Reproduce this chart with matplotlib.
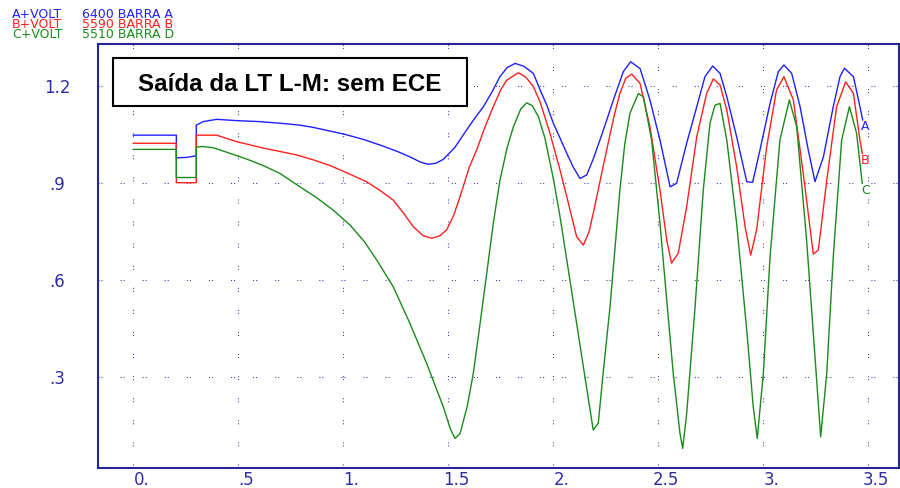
import matplotlib
matplotlib.use("Agg")
import matplotlib.pyplot as plt
import matplotlib.transforms as mtransforms
from matplotlib.patches import Rectangle

# ---------------- data ----------------
blue_x = [0.000, 0.205, 0.205, 0.250, 0.300, 0.300, 0.333, 0.397, 0.492, 0.600, 0.698, 0.794, 0.857,
          1.005, 1.095, 1.190, 1.260, 1.317, 1.370, 1.405, 1.440, 1.476, 1.530, 1.587, 1.630, 1.667,
          1.710, 1.746, 1.780, 1.818, 1.860, 1.905, 1.937, 1.970, 2.000, 2.032, 2.064, 2.095, 2.127,
          2.159, 2.190, 2.222, 2.254, 2.286, 2.333, 2.368, 2.413, 2.440, 2.460, 2.508, 2.556, 2.587,
          2.610, 2.635, 2.683, 2.722, 2.759, 2.794, 2.826, 2.873, 2.921, 2.949, 2.984, 3.032, 3.071,
          3.098, 3.135, 3.175, 3.214, 3.246, 3.286, 3.333, 3.365, 3.386, 3.429, 3.460, 3.473]
blue_y = [1.049, 1.049, 0.979, 0.980, 0.985, 1.080, 1.091, 1.098, 1.094, 1.091, 1.086, 1.080, 1.073,
          1.052, 1.036, 1.015, 0.998, 0.982, 0.965, 0.959, 0.962, 0.974, 1.010, 1.065, 1.105, 1.137,
          1.185, 1.230, 1.258, 1.271, 1.262, 1.240, 1.189, 1.140, 1.086, 1.040, 0.993, 0.950, 0.915,
          0.926, 0.975, 1.034, 1.095, 1.158, 1.245, 1.276, 1.255, 1.200, 1.158, 1.034, 0.889, 0.900,
          0.960, 1.024, 1.137, 1.230, 1.263, 1.240, 1.168, 1.044, 0.905, 0.903, 1.003, 1.147, 1.245,
          1.266, 1.240, 1.137, 1.003, 0.905, 0.982, 1.137, 1.230, 1.256, 1.230, 1.137, 1.096]

red_x = [0.000, 0.205, 0.205, 0.300, 0.300, 0.397, 0.492, 0.619, 0.778, 0.860, 0.937, 1.005, 1.111,
         1.175, 1.238, 1.290, 1.333, 1.380, 1.421, 1.460, 1.492, 1.525, 1.556, 1.600, 1.635, 1.675,
         1.714, 1.750, 1.778, 1.833, 1.870, 1.905, 1.937, 1.984, 2.032, 2.064, 2.111, 2.143, 2.170,
         2.190, 2.254, 2.290, 2.317, 2.345, 2.373, 2.413, 2.460, 2.508, 2.540, 2.563, 2.595, 2.635,
         2.683, 2.730, 2.762, 2.794, 2.826, 2.873, 2.913, 2.940, 2.968, 3.016, 3.063, 3.098, 3.143,
         3.190, 3.238, 3.262, 3.302, 3.349, 3.392, 3.429, 3.460, 3.471]
red_y = [1.024, 1.024, 0.902, 0.902, 1.049, 1.049, 1.029, 1.009, 0.988, 0.972, 0.955, 0.936, 0.905,
         0.878, 0.848, 0.805, 0.766, 0.738, 0.730, 0.738, 0.756, 0.800, 0.859, 0.950, 1.003, 1.075,
         1.137, 1.190, 1.219, 1.242, 1.228, 1.199, 1.152, 1.055, 0.941, 0.859, 0.735, 0.709, 0.750,
         0.807, 1.003, 1.110, 1.178, 1.225, 1.238, 1.209, 1.075, 0.879, 0.725, 0.653, 0.684, 0.828,
         1.044, 1.178, 1.223, 1.204, 1.127, 0.951, 0.766, 0.678, 0.756, 1.013, 1.189, 1.230, 1.158,
         0.931, 0.681, 0.694, 0.910, 1.137, 1.214, 1.178, 1.034, 0.993]

green_x = [0.000, 0.205, 0.205, 0.300, 0.300, 0.330, 0.381, 0.460, 0.540, 0.619, 0.700, 0.794, 0.870,
           0.952, 1.032, 1.100, 1.159, 1.238, 1.317, 1.397, 1.476, 1.510, 1.532, 1.556, 1.590, 1.619,
           1.650, 1.683, 1.715, 1.746, 1.780, 1.810, 1.845, 1.873, 1.900, 1.929, 1.960, 2.000, 2.032,
           2.079, 2.143, 2.190, 2.214, 2.240, 2.270, 2.317, 2.340, 2.365, 2.405, 2.429, 2.468, 2.508,
           2.540, 2.571, 2.603, 2.616, 2.635, 2.675, 2.714, 2.746, 2.770, 2.794, 2.826, 2.873, 2.921,
           2.952, 2.971, 3.000, 3.032, 3.079, 3.124, 3.159, 3.206, 3.246, 3.273, 3.302, 3.333, 3.373,
           3.410, 3.444, 3.471]
green_y = [1.005, 1.005, 0.918, 0.918, 1.012, 1.014, 1.010, 0.993, 0.975, 0.955, 0.930, 0.889, 0.857,
           0.817, 0.771, 0.720, 0.663, 0.580, 0.467, 0.343, 0.209, 0.140, 0.111, 0.126, 0.210, 0.312,
           0.460, 0.622, 0.780, 0.910, 1.010, 1.075, 1.130, 1.149, 1.140, 1.106, 1.040, 0.915, 0.797,
           0.601, 0.333, 0.137, 0.158, 0.330, 0.518, 0.879, 1.020, 1.117, 1.178, 1.168, 1.034, 0.776,
           0.539, 0.312, 0.127, 0.080, 0.188, 0.518, 0.879, 1.086, 1.142, 1.147, 1.034, 0.776, 0.446,
           0.209, 0.111, 0.312, 0.673, 1.034, 1.158, 1.075, 0.725, 0.364, 0.116, 0.312, 0.673, 1.034,
           1.137, 1.055, 0.900]

x_ticks = [0.0, 0.5, 1.0, 1.5, 2.0, 2.5, 3.0, 3.5]
x_tick_labels = ["0.", ".5", "1.", "1.5", "2.", "2.5", "3.", "3.5"]
y_ticks = [0.3, 0.6, 0.9, 1.2]
y_tick_labels = [".3", ".6", ".9", "1.2"]

legend_names = ["A+VOLT", "B+VOLT", "C+VOLT"]
legend_desc = ["6400 BARRA A", "5590 BARRA B", "5510 BARRA D"]
end_labels = ["A", "B", "C"]
title_text = "Saída da LT L-M: sem ECE"

# ---------------- styling ----------------
plt.rcParams["lines.scale_dashes"] = False
W, H = 900, 488
c_blue, c_red, c_green = "#1f1fff", "#ff1f1f", "#1a8a1a"
navy = "#25259a"
series_colors = [c_blue, c_red, c_green]

fig = plt.figure(figsize=(W / 100, H / 100), dpi=100)
fig.patch.set_facecolor("white")
ax = fig.add_axes([98 / W, 20 / H, 801 / W, 424 / H])

ax.set_xlim(-0.168, 3.646)
ax.set_ylim(0.0195, 1.331)

# grid: sparse dotted pattern
dots = (0, (0.75, 1.4, 0.75, 13.0))
for xv in x_ticks:
    ax.axvline(xv, color="#3a3aa8", lw=0.8, linestyle=dots, zorder=1)
for yv in y_ticks:
    ax.axhline(yv, color="#3a3aa8", lw=0.8, linestyle=dots, zorder=1)

# curves
for xs, ys, col in zip([blue_x, red_x, green_x], [blue_y, red_y, green_y], series_colors):
    ax.plot(xs, ys, color=col, lw=1.0, zorder=3)

# curve end labels
for xs, ys, col, lab in zip([blue_x, red_x, green_x], [blue_y, red_y, green_y], series_colors, end_labels):
    ax.annotate(lab, xy=(xs[-1], ys[-1]), xytext=(-1, -5), textcoords="offset points",
                ha="left", va="center", color=col, fontsize=9, family="DejaVu Sans", zorder=4)

# ticks
ax.set_xticks(x_ticks)
ax.set_xticklabels(x_tick_labels)
ax.set_yticks(y_ticks)
ax.set_yticklabels(y_tick_labels)
ax.tick_params(axis="both", length=0, labelsize=12, labelcolor="#2e2ea0")
ax.tick_params(axis="x", pad=2)
ax.tick_params(axis="y", pad=29.5)
for lbl in ax.get_yticklabels():
    lbl.set_horizontalalignment("center")
    lbl.set_family("DejaVu Sans")
shift = mtransforms.ScaledTranslation(8 / 100, 0, fig.dpi_scale_trans)
for lbl in ax.get_xticklabels():
    lbl.set_family("DejaVu Sans")
    lbl.set_transform(lbl.get_transform() + shift)

for sp in ax.spines.values():
    sp.set_color(navy)
    sp.set_linewidth(1.5)

# header legend lines (top-left)
for i, (nm, ds, col) in enumerate(zip(legend_names, legend_desc, series_colors)):
    yy = 1 - (15 + 9.8 * i) / H
    fig.text(12 / W, yy, nm, ha="left", va="center", color=col, fontsize=9, family="DejaVu Sans")
    fig.text(82 / W, yy, ds, ha="left", va="center", color=col, fontsize=9, family="DejaVu Sans")

# title box
rect = Rectangle((113 / W, (H - 105.7) / H), 354 / W, 47.4 / H, transform=fig.transFigure,
                 facecolor="white", edgecolor="black", linewidth=1.5, zorder=5)
fig.add_artist(rect)
fig.text(290 / W, (H - 90.7) / H, title_text, ha="center", va="baseline", fontsize=17.4,
         fontweight="bold", family="Liberation Sans", color="black", zorder=6)

fig.savefig("out.png", dpi=100, facecolor="white")
